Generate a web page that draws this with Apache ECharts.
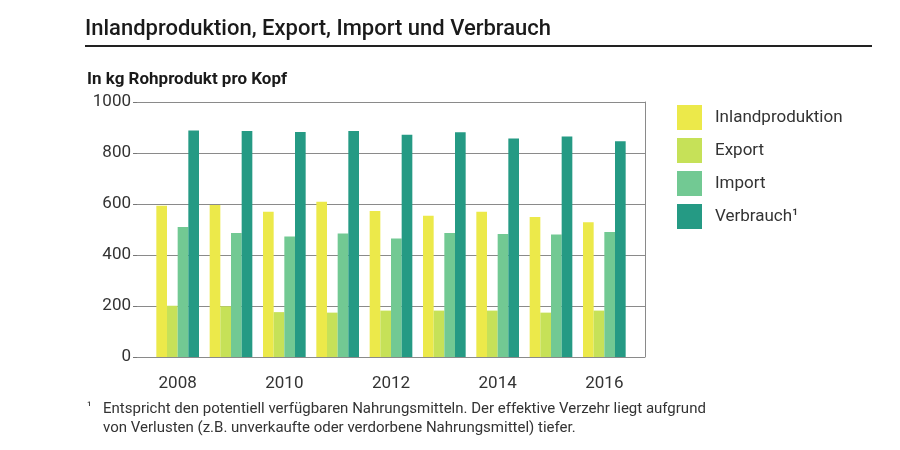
<!DOCTYPE html>
<html>
<head>
<meta charset="utf-8">
<script src="https://cdn.jsdelivr.net/npm/echarts@6/dist/echarts.min.js"></script>
<style>html,body{margin:0;padding:0;background:#fff}#c{width:900px;height:450px}</style>
</head>
<body>
<div id="c"></div>
<script>
const years = ['2008','2009','2010','2011','2012','2013','2014','2015','2016'];
const inlandproduktion = [593, 596, 570, 609, 573, 554, 570, 549, 528];
const exportData = [201, 199, 176, 174, 182, 182, 182, 174, 182];
const importData = [510, 486, 473, 484, 465, 486, 482, 480, 490];
const verbrauch = [888, 886, 882, 886, 872, 881, 857, 865, 846];
const seriesNames = ['Inlandproduktion', 'Export', 'Import', 'Verbrauch¹'];
const colors = ['#ece94a', '#c6e158', '#72c993', '#259a84'];

const font = 'Roboto, "Noto Sans", sans-serif';
const chart = echarts.init(document.getElementById('c'), null, {renderer: 'canvas'});
const dataSets = [inlandproduktion, exportData, importData, verbrauch];

chart.setOption({
  animation: false,
  textStyle: {fontFamily: font},
  title: [
    {text: 'Inlandproduktion, Export, Import und Verbrauch', left: 85, top: 18, padding: 0,
     textStyle: {fontFamily: font, fontSize: 22, fontWeight: 500, color: '#1a1a1a'}},
    {text: 'In kg Rohprodukt pro Kopf', left: 87, top: 71, padding: 0,
     textStyle: {fontFamily: font, fontSize: 17, fontWeight: 'bold', color: '#1a1a1a'}}
  ],
  graphic: [
    {type: 'line', shape: {x1: 85, y1: 46, x2: 872, y2: 46}, style: {stroke: '#222', lineWidth: 2}},
    {type: 'text', left: 87, top: 401, style: {text: '¹', font: '12px ' + font, fill: '#333'}},
    {type: 'text', left: 103, top: 400, style: {
      text: 'Entspricht den potentiell verfügbaren Nahrungsmitteln. Der effektive Verzehr liegt aufgrund\nvon Verlusten (z.B. unverkaufte oder verdorbene Nahrungsmittel) tiefer.',
      font: '15px ' + font, fill: '#333', lineHeight: 19}}
  ],
  legend: {
    orient: 'vertical', left: 677, top: 105, padding: 0,
    icon: 'rect', itemWidth: 25, itemHeight: 25, itemGap: 8,
    data: seriesNames,
    textStyle: {fontFamily: font, fontSize: 17, color: '#333', padding: [0, 0, 0, 8]}
  },
  grid: [
    {left: 137, right: 255, top: 102, bottom: 93},
    {left: 151, right: 269, top: 102, bottom: 93}
  ],
  xAxis: [
    {type: 'category', gridIndex: 0, data: years, show: false},
    {type: 'category', gridIndex: 1, data: years,
     axisLine: {show: false}, axisTick: {show: false},
     axisLabel: {interval: 1, fontFamily: font, fontSize: 17, color: '#333', margin: 18}}
  ],
  yAxis: [
    {type: 'value', gridIndex: 0, min: 0, max: 1000, interval: 200,
     axisLine: {show: false},
     axisTick: {show: true, length: 4, lineStyle: {color: '#777'}},
     axisLabel: {fontFamily: font, fontSize: 17, color: '#333', margin: 6, formatter: v => String(v)},
     splitLine: {lineStyle: {color: '#8a8a8a', width: 1}}},
    {type: 'value', gridIndex: 0, min: 0, max: 1000, interval: 200, position: 'right',
     axisLine: {show: true, lineStyle: {color: '#8a8a8a'}},
     axisTick: {show: false}, axisLabel: {show: false}, splitLine: {show: false}},
    {type: 'value', gridIndex: 1, min: 0, max: 1000, show: false, splitLine: {show: false}}
  ],
  series: seriesNames.map((name, i) => ({
    name: name, type: 'bar', xAxisIndex: 1, yAxisIndex: 2,
    data: dataSets[i], barGap: '0%', barCategoryGap: '20%',
    itemStyle: {color: colors[i]}
  }))
});
</script>
</body>
</html>
